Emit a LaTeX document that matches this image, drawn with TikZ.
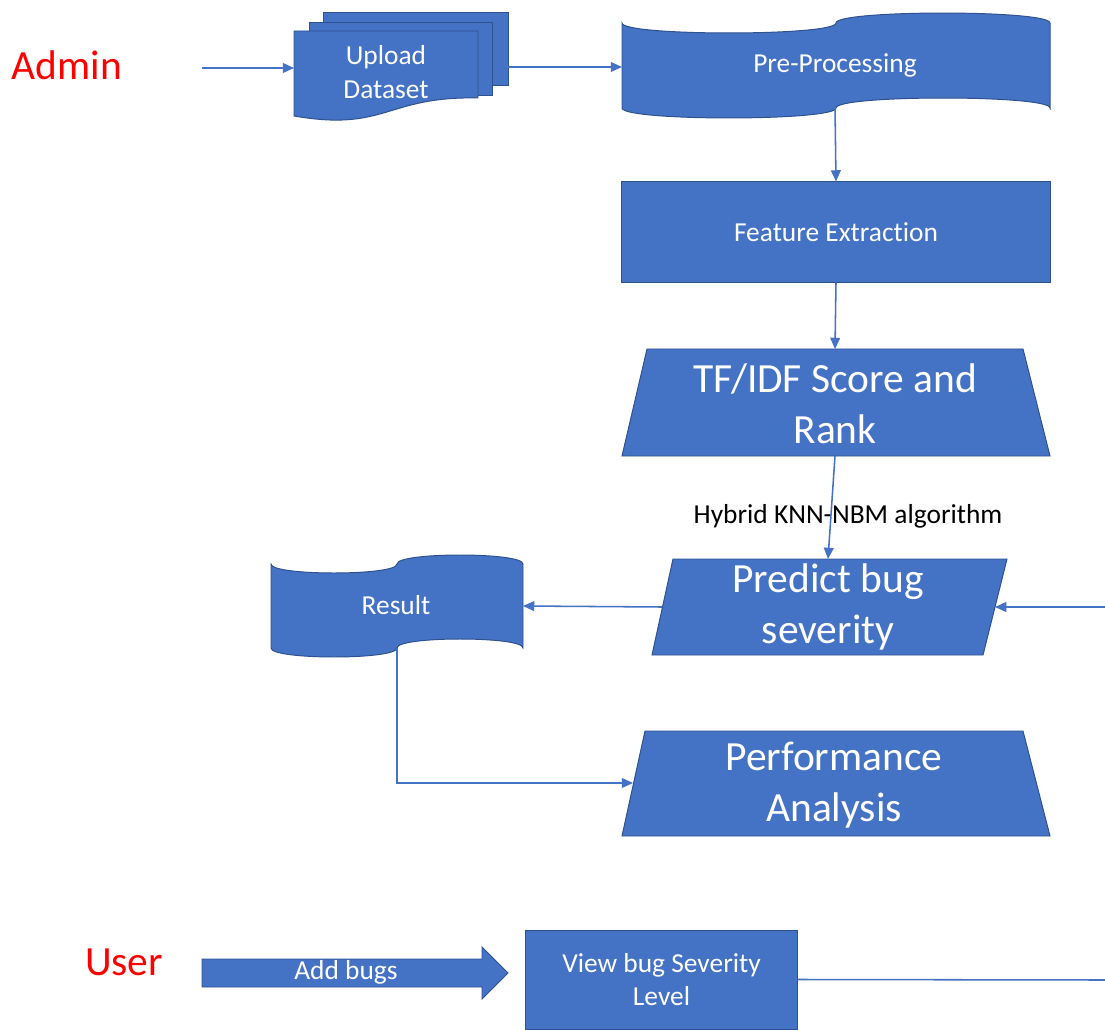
\documentclass[tikz,border=0pt]{standalone}
\usepackage{fontspec}
\setmainfont{Carlito}[Ligatures={NoCommon}]
\usetikzlibrary{arrows.meta}
\definecolor{obl}{HTML}{4472C4}
\definecolor{obd}{HTML}{2F528F}
\begin{document}
\begin{tikzpicture}[x=0.025cm,y=-0.025cm,
  shp/.style={fill=obl,draw=obd,line width=0.7pt},
  conn/.style={draw=obl,line width=1.1pt,-{Triangle[length=8pt,width=7pt]}},
  wt/.style={text=white,align=center},
  big/.style={font=\fontsize{29.5}{36}\selectfont},
  mid/.style={font=\fontsize{19.5}{24}\selectfont},
  lbl/.style={text=black,font=\fontsize{19.5}{23}\selectfont},
  actor/.style={text=red,font=\fontsize{29.5}{35}\selectfont}]
\useasboundingbox (0,0) rectangle (1105,1030);

% Admin
\node[actor] (admin) at (67,65) {Admin};
\coordinate (adminout) at (202,68);

% Upload Dataset (multi-document)
\path[shp] (323,12) rectangle (508,85);
\path[shp] (309,22) rectangle (492,95);
\path[shp] (294,31) -- (478,31) -- (478,98) .. controls (386,96) and (386,132) .. (294,116) -- cycle;
\node[wt,mid] (upload) at (386,72) {Upload\\Dataset};
\coordinate (up-w) at (294,68);
\coordinate (up-e) at (508,67);

% Pre-Processing (punched tape)
\path[shp] (622,23) .. controls (622,36.3) and (836,36.3) .. (836,23)
  .. controls (836,9.7) and (1050,9.7) .. (1050,23) -- (1050,108)
  .. controls (1050,94.7) and (836,94.7) .. (836,108)
  .. controls (836,121.3) and (622,121.3) .. (622,108) -- cycle;
\node[wt,mid] (pre) at (835,65) {Pre-Processing};
\coordinate (pre-w) at (622,67);
\coordinate (pre-s) at (835,107);

% Feature Extraction
\node[shp,wt,mid,minimum width=10.7cm,minimum height=2.5cm] (feat) at (836,232) {Feature Extraction};

% TF/IDF
\path[shp] (647,349) -- (1023,349) -- (1050,456) -- (622,456) -- cycle;
\node[wt,big] (tfidf) at (835,404) {TF/IDF Score and\\Rank};
\coordinate (tf-n) at (835,349);
\coordinate (tf-s) at (835,456);

% Predict bug severity
\path[shp] (673,559) -- (1007,559) -- (983,655) -- (652,655) -- cycle;
\node[wt,big] (pred) at (828,607) {Predict bug\\severity};
\coordinate (pr-n) at (828,559);
\coordinate (pr-w) at (662,607);
\coordinate (pr-e) at (995,607);

% Result (punched tape)
\path[shp] (271,564) .. controls (271,576) and (397,576) .. (397,564)
  .. controls (397,552) and (523,552) .. (523,564) -- (523,648)
  .. controls (523,636) and (397,636) .. (397,648)
  .. controls (397,660) and (271,660) .. (271,648) -- cycle;
\node[wt,mid] (result) at (396,605) {Result};
\coordinate (res-e) at (523,606);
\coordinate (res-s) at (397,648);

% Performance Analysis
\path[shp] (645,731) -- (1023,731) -- (1050,836) -- (622,836) -- cycle;
\node[wt,big] (perf) at (834,785) {Performance\\Analysis};
\coordinate (perf-w) at (633,783);

% User
\node[actor] (user) at (124,962) {User};

% Add bugs block arrow
\path[shp] (202,959) -- (482,959) -- (482,947) -- (508,973) -- (482,999) -- (482,987) -- (202,987) -- cycle;
\node[wt,mid] (addbugs) at (346,972) {Add bugs};

% View bug Severity Level
\node[shp,wt,mid,minimum width=6.775cm,minimum height=2.475cm] (view) at (661.5,979.5) {View bug Severity\\Level};

% label
\node[lbl] (algo) at (848,516) {Hybrid KNN-NBM algorithm};

% connectors
\coordinate (rt-top) at (1108,607);
\coordinate (rt-bot) at (1108,980);
\draw[conn] (adminout) -- (up-w);
\draw[conn] (up-e) -- (pre-w);
\draw[conn] (pre-s) -- (feat.north);
\draw[conn] (feat.south) -- (tf-n);
\draw[conn] (tf-s) -- (pr-n);
\draw[conn] (pr-w) -- (res-e);
\draw[conn] (res-s) |- (perf-w);
\draw[conn] (view.east) -- (rt-bot) -- (rt-top) -- (pr-e);
\end{tikzpicture}
\end{document}
